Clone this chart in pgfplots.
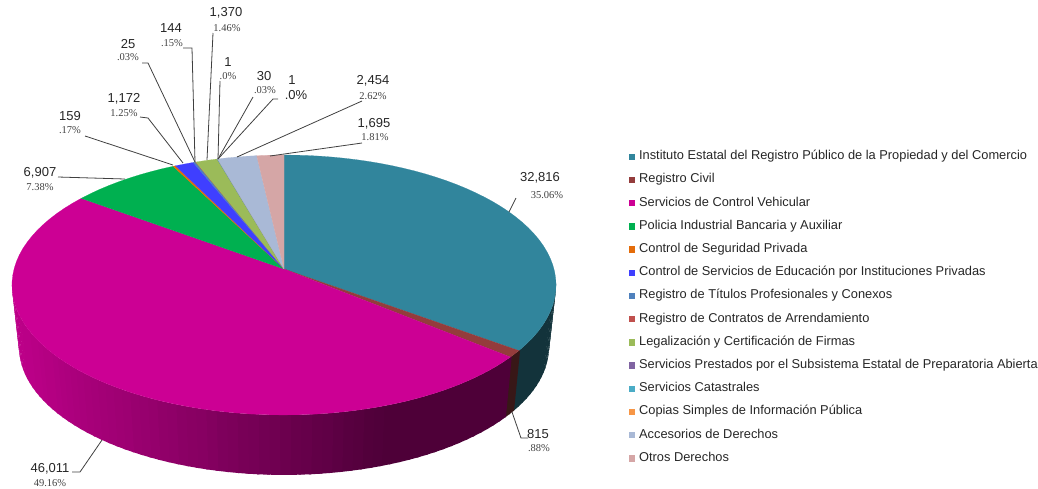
\documentclass[border=0pt]{standalone}
\usepackage{fontspec}
\setmainfont{Liberation Sans}
\newfontfamily\pctfont{Liberation Serif}
\usepackage{pgfplots}
\usepackage{pgfplotstable}
\pgfplotsset{compat=1.18}
\definecolor{cteal}{RGB}{49,133,156}
\definecolor{cbrown}{RGB}{148,60,60}
\definecolor{cmag}{RGB}{204,0,148}
\definecolor{cgreen}{RGB}{0,176,80}
\definecolor{corange}{RGB}{228,108,10}
\definecolor{cblue}{RGB}{63,63,255}
\definecolor{csteel}{RGB}{79,129,189}
\definecolor{cred}{RGB}{192,80,77}
\definecolor{colive}{RGB}{155,187,89}
\definecolor{cpurple}{RGB}{128,100,162}
\definecolor{ccyan}{RGB}{75,172,198}
\definecolor{clorange}{RGB}{247,150,70}
\definecolor{cperi}{RGB}{169,185,214}
\definecolor{cpink}{RGB}{213,166,166}
\pgfplotstableread{
value col
32816 cteal
815 cbrown
46011 cmag
6907 cgreen
159 corange
1172 cblue
144 csteel
25 cred
1370 colive
1 cpurple
30 ccyan
1 clorange
2454 cperi
1695 cpink
}\piedata
% value to degrees (total 93600 = 360 degrees)
\newcommand\slicedeg[1]{\begingroup\pgfkeys{/pgf/fpu=true,/pgf/fpu/output format=fixed}\pgfmathparse{#1/260}\xdef\sdeg{\pgfmathresult}\endgroup}
% rim of the perspective disc: true angle (clockwise from top) to picture pixels
\newcommand\rim[1]{%
 \pgfmathsetmacro\sx{sin(#1)}\pgfmathsetmacro\sy{cos(#1)}\pgfmathsetmacro\dn{1+0.123*\sy}%
 \pgfmathsetmacro\tx{284+270*\sx/\dn}\pgfmathsetmacro\ty{285-(130*\sy+16)/\dn}%
 \pgfmathsetmacro\bx{284+263*\sx/\dn}\pgfmathsetmacro\by{347-(128*\sy+15.8)/\dn}}
\newcommand\val[3]{\node[font=\fontsize{13}{13}\selectfont,text=black!85,inner sep=0] at (axis cs:#1,#2) {#3};}
\newcommand\pct[3]{\node[font=\pctfont\fontsize{10.5}{10.5}\selectfont,text=black!75,inner sep=0] at (axis cs:#1,#2) {#3};}
\newcommand\lead[1]{\addplot[black!75,line width=0.8pt,forget plot] coordinates {#1};}
\newcommand\leg[2]{\addlegendimage{fill=#1}\addlegendentry{#2}}
\begin{document}
\begin{tikzpicture}
\useasboundingbox (0,0) rectangle (1038pt,488pt);
\begin{axis}[at={(0,0)},anchor=south west,scale only axis,width=1038pt,height=488pt,
 xmin=0,xmax=1038,ymin=0,ymax=488,y dir=reverse,hide axis,clip=false,
 legend cell align=left,
 legend image code/.code={\fill[#1,draw=none] (0pt,-3.2pt) rectangle (6.4pt,3.2pt);},
 legend style={at={(axis description cs:0.6055,0.6916)},anchor=north west,draw=none,fill=none,
  inner sep=0pt,row sep=11.2pt,column sep=4pt,
  nodes={inner sep=0pt,text height=9pt,text depth=3pt,font=\fontsize{12.83}{12}\selectfont,text=black!85}},
]
% walls
\gdef\cum{0}
\foreach \r in {0,...,13}{
 \pgfplotstablegetelem{\r}{value}\of\piedata \let\vv\pgfplotsretval
 \pgfplotstablegetelem{\r}{col}\of\piedata \let\cc\pgfplotsretval
 \slicedeg{\vv}
 \pgfmathsetmacro\sA{\cum}\pgfmathsetmacro\sB{\cum+\sdeg}
 \xdef\cum{\sB}
 \pgfmathsetmacro\wA{max(\sA,97)}\pgfmathsetmacro\wB{min(\sB,263)}
 \pgfmathtruncatemacro\go{\wB>\wA ? 1 : 0}
 \ifnum\go=1
  \pgfmathtruncatemacro\nw{ceil((\wB-\wA)/2)}
  \foreach \i in {1,...,\nw}{
   \pgfmathsetmacro\tz{\wA+(\wB-\wA)*(\i-1)/\nw-0.5}
   \pgfmathsetmacro\to{\wA+(\wB-\wA)*\i/\nw}
   \rim\tz
   \let\txz\tx\let\tyz\ty\let\bxz\bx\let\byz\by
   \rim\to
   \pgfmathtruncatemacro\ff{100*max(0.38,0.92-0.0015*(\tx-284+264))}
   \edef\tmp{\noexpand\addplot[fill=\cc!\ff!black,draw=none,forget plot] coordinates {(\txz,\tyz) (\tx,\ty) (\bx,\by) (\bxz,\byz) (\txz,\tyz)};}
   \tmp
  }
 \fi
}
% top surface
\gdef\cum{0}
\foreach \r in {0,...,13}{
 \pgfplotstablegetelem{\r}{value}\of\piedata \let\vv\pgfplotsretval
 \pgfplotstablegetelem{\r}{col}\of\piedata \let\cc\pgfplotsretval
 \slicedeg{\vv}
 \pgfmathsetmacro\sA{\cum}\pgfmathsetmacro\sB{\cum+\sdeg}
 \xdef\cum{\sB}
 \pgfmathtruncatemacro\np{ceil((\sB-\sA)/3)}
 \gdef\pts{(284,269)}
 \foreach \i in {0,...,\np}{
  \pgfmathsetmacro\tz{\sA+(\sB-\sA)*\i/\np}
  \rim\tz
  \xdef\pts{\pts (\tx,\ty)}
 }
 \edef\tmp{\noexpand\addplot[fill=\cc,draw=\cc,line width=0.15pt,forget plot] coordinates {\pts (284,269)};}
 \tmp
}
% leader lines
\lead{(516,198) (509,212)}
\lead{(512,412) (521,438) (528,438)}
\lead{(102,440) (80,472) (72,472)}
\lead{(58,177) (125,179)}
\lead{(85,136) (173,165)}
\lead{(140,117) (148,118) (183,163)}
\lead{(142,63) (148,63) (195,162)}
\lead{(183,48) (192,48) (195,162)}
\lead{(213,33) (207,160)}
\lead{(220,81) (218,159)}
\lead{(253,97) (218,159)}
\lead{(278,99) (273,99) (218,159)}
\lead{(362,101) (237,157)}
\lead{(362,143) (270,156)}
% labels
\val{540}{178}{32,816}\pct{547}{195}{35.06\%}
\val{538}{434}{815}\pct{539}{448}{.88\%}
\val{50}{469}{46,011}\pct{50}{483}{49.16\%}
\val{40}{173}{6,907}\pct{40}{187}{7.38\%}
\val{70}{116}{159}\pct{70}{130}{.17\%}
\val{124}{99}{1,172}\pct{124}{113}{1.25\%}
\val{128}{44}{25}\pct{128}{57}{.03\%}
\val{171}{28}{144}\pct{172}{43}{.15\%}
\val{226}{13}{1,370}\pct{227}{28}{1.46\%}
\val{228}{62}{1}\pct{228}{76}{.0\%}
\val{264}{76}{30}\pct{265}{90}{.03\%}
\val{292}{80}{1}\val{296}{95}{.0\%}
\val{373}{81}{2,454}\pct{373}{96}{2.62\%}
\val{374}{124}{1,695}\pct{375}{137}{1.81\%}
% legend
\leg{cteal}{Instituto Estatal del Registro Público de la Propiedad y del Comercio}
\leg{cbrown}{Registro Civil}
\leg{cmag}{Servicios de Control Vehicular}
\leg{cgreen}{Policia Industrial Bancaria y Auxiliar}
\leg{corange}{Control de Seguridad Privada}
\leg{cblue}{Control de Servicios de Educación por Instituciones Privadas}
\leg{csteel}{Registro de Títulos Profesionales y Conexos}
\leg{cred}{Registro de Contratos de Arrendamiento}
\leg{colive}{Legalización y Certificación de Firmas}
\leg{cpurple}{Servicios Prestados por el Subsistema Estatal de Preparatoria Abierta}
\leg{ccyan}{Servicios Catastrales}
\leg{clorange}{Copias Simples de Información Pública}
\leg{cperi}{Accesorios de Derechos}
\leg{cpink}{Otros Derechos}
\end{axis}
\end{tikzpicture}
\end{document}
